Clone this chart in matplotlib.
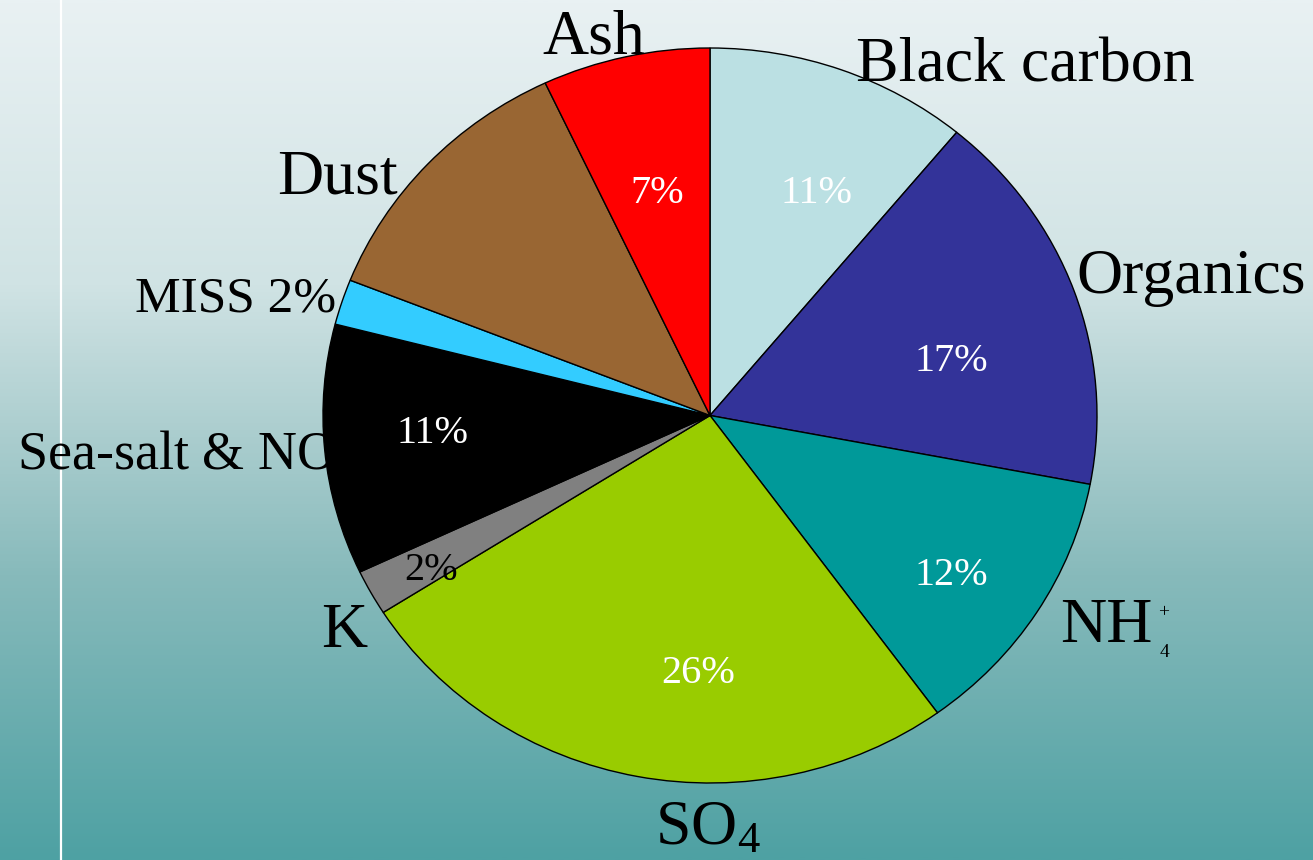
import numpy as np
import matplotlib.pyplot as plt
from matplotlib.colors import LinearSegmentedColormap

plt.rcParams['font.family'] = ['Liberation Serif', 'DejaVu Serif']
plt.rcParams['mathtext.fontset'] = 'custom'
plt.rcParams['mathtext.rm'] = 'Liberation Serif'
plt.rcParams['mathtext.it'] = 'Liberation Serif:italic'

# aerosol mass fractions, clockwise from 12 o'clock
components = ['Black carbon', 'Organics', 'NH4', 'SO4', 'K',
              'Sea-salt & NO3', 'MISS', 'Dust', 'Ash']
shares = [11, 17, 12, 26, 2, 11, 2, 12, 7]
colors = ['#bbe0e3', '#333399', '#009999', '#99cc00', '#808080',
          '#000000', '#33ccff', '#996633', '#ff0000']

W, H = 1313, 860
fig = plt.figure(figsize=(W / 100, H / 100), dpi=100)

# slide-style vertical gradient background
bg = fig.add_axes([0, 0, 1, 1], zorder=0)
grad = LinearSegmentedColormap.from_list('bg', [
    (0.00, (233 / 255, 241 / 255, 243 / 255)),
    (0.33, (208 / 255, 227 / 255, 228 / 255)),
    (0.50, (172 / 255, 206 / 255, 207 / 255)),
    (0.67, (135 / 255, 186 / 255, 187 / 255)),
    (1.00, (78 / 255, 161 / 255, 163 / 255)),
])
bg.imshow(np.linspace(0, 1, 512)[:, None], aspect='auto', cmap=grad,
          extent=[0, 1, 0, 1])
bg.axvline(60.5 / W, color='white', lw=1.6)
bg.set_xlim(0, 1)
bg.set_ylim(0, 1)
bg.axis('off')

ax = fig.add_axes([0, 0, 1, 1], zorder=1)
ax.patch.set_alpha(0)
wedges, _ = ax.pie(shares, colors=colors, startangle=90, counterclock=False,
                   wedgeprops=dict(edgecolor='black', linewidth=1.0))
# pie is slightly squashed vertically
ax.set_aspect('auto')
cx, cy, rx, ry = 710, H - 415.5, 387, 367.5
ax.set_xlim(-cx / rx, (W - cx) / rx)
ax.set_ylim(-cy / ry, (H - cy) / ry)
ax.axis('off')


def put(s, x, y, size, ha='center', color='black', z=3):
    ax.annotate(s, xy=(x, H - y), xycoords='figure pixels', ha=ha,
                va='baseline', fontsize=size, color=color, zorder=z)


# component names
put('Ash', 594, 53, 46)
put('Black carbon', 1025, 81, 46)
put('Organics', 1191, 293, 46)
put('NH', 1106, 642, 46)
put('+', 1164, 617, 14)
put('4', 1164, 657, 14)
put('SO$_4$', 655, 844, 46, ha='left')
put('K', 344, 647, 46)
put('Sea-salt & NO$_3$', 17, 468, 39, ha='left', z=0.5)
put(f'MISS {shares[6]}%', 135, 312, 37, ha='left')
put('Dust', 337, 194, 46)

# percentages inside the wedges
pct_pos = {'Black carbon': (817, 203), 'Organics': (951, 371),
           'NH4': (951, 585), 'SO4': (698, 683), 'K': (431, 580),
           'Sea-salt & NO3': (433, 443), 'Ash': (657, 203)}
for name, v in zip(components, shares):
    if name not in pct_pos:
        continue
    x, y = pct_pos[name]
    put(f'{v}%', x, y, 29, color='black' if name == 'K' else 'white')

fig.savefig('out.png', dpi=100)
